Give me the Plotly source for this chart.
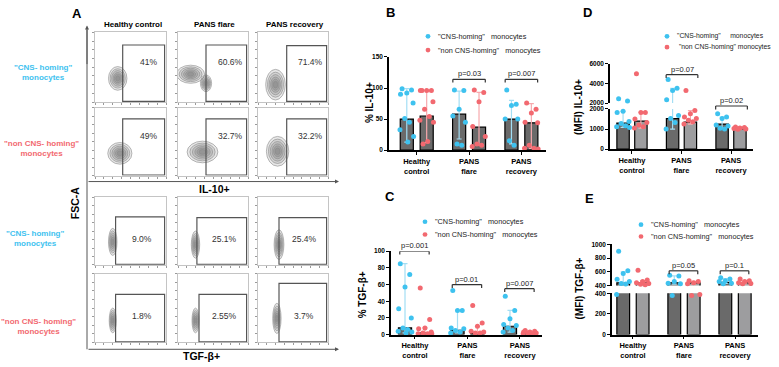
import plotly.graph_objects as go

W, H = 779, 367
FONT = "Liberation Sans, Arial, sans-serif"
CYAN, RED = "#3ec2ef", "#f26970"
CYAN_LT, RED_LT = "#a3def4", "#f7a9ad"
BAR_DK, BAR_LT = "#6a6a6a", "#9d9d9f"

groups = ["Healthy<br>control", "PANS<br>flare", "PANS<br>recovery"]
legend_labels = ['"CNS-homing"\u00a0\u00a0 monocytes', '"non CNS-homing"\u00a0\u00a0 monocytes']
legend_labels_d = ['"CNS-homing"\u00a0\u00a0\u00a0\u00a0 monocytes', ' "non CNS-homing" monocytes']

# ---------------- Panel B : % IL-10+ ----------------
b_cns = [[99, 97, 92, 90, 76, 51, 45, 33, 22, 13], [97, 96, 66, 55, 45, 10, 8], [97, 74, 72, 50, 50, 15, 8]]
b_non = [[96, 96, 96, 96, 78, 66, 54, 48, 45, 14, 10], [97, 93, 78, 38, 22, 10, 8, 6], [76, 66, 60, 45, 44, 8, 3, 3, 2]]
b_bar_cns = [50, 58, 50]
b_bar_non = [55, 37, 44]
b_hi_cns, b_lo_cns = [99, 95, 80], [13, 18, 10]
b_hi_non, b_lo_non = [96, 93, 75], [12, 8, 3]
b_p = [None, "p=0.03", "p=0.007"]
b_p_y = [None, 114, 114]

# ---------------- Panel C : % TGF-b+ ----------------
c_cns = [[85, 72, 57, 31, 20, 8, 6, 4, 3, 2], [53, 29, 29, 8, 7, 5, 3, 2], [46, 29, 19, 12, 11, 8, 5, 3]]
c_non = [[56, 18, 8, 7, 3, 2, 1, 1, 1], [35, 14, 10, 4, 3, 2, 2], [5, 4, 3, 3, 2, 2, 1, 1]]
c_bar_cns = [8, 5, 10]
c_bar_non = [2, 1.5, 2]
c_hi_cns, c_lo_cns = [85, 29, 29], [2, 2, 3]
c_hi_non, c_lo_non = [8, 10, 4], [1, 1, 1]
c_p = ["p=0.001", "p=0.01", "p=0.007"]
c_p_y = [100, 60, 55]

# ---------------- Panel D : MFI IL-10+ ----------------
d_cns = [[2430, 2200, 1880, 1830, 1380, 1280, 1170, 1120, 1080],
         [4400, 3500, 3270, 2330, 1680, 1520, 1330, 1000],
         [1760, 1600, 1520, 1200, 1150, 1040, 1000]]
d_non = [[5000, 1830, 1830, 1500, 1330, 1200, 1120, 1050],
         [3270, 1920, 1760, 1600, 1520, 1440, 1360, 1250],
         [1100, 1080, 1050, 1030, 1000, 990]]
d_bar_cns = [1300, 1520, 1250]
d_bar_non = [1400, 1350, 1000]
d_hi_cns, d_lo_cns = [1880, 3500, 1600], [1080, 1000, 1040]
d_hi_non, d_lo_non = [1830, 1920, 1080], [1050, 1250, 990]
d_p = [None, "p=0.07", "p=0.02"]
d_p_ypx = [None, 72, 104]
d_break = 2000

# ---------------- Panel E : MFI TGF-b+ ----------------
e_cns = [[900, 614, 576, 490, 457, 430, 424, 390], [550, 538, 457, 433, 425, 380], [514, 495, 471, 457, 433, 425]]
e_non = [[624, 480, 457, 440, 430, 420, 410], [471, 457, 440, 425, 390, 380], [495, 471, 457, 440, 430, 425]]
e_bar_cns = [440, 440, 445]
e_bar_non = [440, 440, 440]
e_hi_cns, e_lo_cns = [600, 540, 500], [424, 420, 430]
e_hi_non, e_lo_non = [470, 460, 470], [420, 420, 425]
e_p = [None, "p=0.05", "p=0.1"]
e_p_ypx = [None, 272, 272]
e_break = 400

# ---------------- Panel A : flow cytometry ----------------
flow_cols = ["Healthy control", "PANS flare", "PANS recovery"]
flow_rows = ['"CNS- homing"<br>monocytes', '"non CNS- homing"<br>monocytes',
             '"CNS- homing"<br>monocytes', '"non CNS- homing"<br>monocytes']
flow_pct = [["41%", "60.6%", "71.4%"], ["49%", "32.7%", "32.2%"],
            ["9.0%", "25.1%", "25.4%"], ["1.8%", "2.55%", "3.7%"]]
# gate left edge and top edge (axis units 0-100)
gate_x0 = [[39, 40, 41], [39, 40, 41], [29, 27, 30], [29, 30, 30]]
gate_y1 = [[82, 82, 81], [84, 84, 84], [71, 70, 70], [70, 70, 86]]
# population blobs: (cx, cy, rx, ry)
blobs = [[[(32, 34, 13, 17)], [(18, 40, 20, 13), (40, 27, 8, 12)], [(25, 25, 14, 22)]],
         [[(35, 33, 17, 16)], [(35, 35, 22, 16)], [(28, 36, 16, 22)]],
         [[(25, 34, 6, 20)], [(25, 30, 6, 20)], [(30, 30, 7, 22)]],
         [[(25, 32, 5, 18)], [(25, 32, 5, 18)], [(27, 35, 6, 22)]]]


def px(x):
    return x / W


def py(y):
    return 1 - y / H


fig = go.Figure()
axes = {}
shapes = []
annos = []
count = [0]


def add_axes(xd, yd, xr, yr, xo=None, yo=None):
    count[0] += 1
    n = count[0]
    s = "" if n == 1 else str(n)
    xa = dict(domain=[px(xd[0]), px(xd[1])], range=xr, anchor="y" + s,
              showgrid=False, zeroline=False, fixedrange=True)
    ya = dict(domain=[py(yd[1]), py(yd[0])], range=yr, anchor="x" + s,
              showgrid=False, zeroline=False, fixedrange=True)
    xa.update(xo or {})
    ya.update(yo or {})
    axes["xaxis" + s] = xa
    axes["yaxis" + s] = ya
    return "x" + s, "y" + s


def text(x, y, t, size=8, color="black", bold=False, xanchor="center", yanchor="middle",
         xref="paper", yref="paper", angle=0):
    if bold:
        t = "<b>" + t + "</b>"
    annos.append(dict(x=x, y=y, xref=xref, yref=yref, text=t, showarrow=False,
                      font=dict(family=FONT, size=size, color=color),
                      xanchor=xanchor, yanchor=yanchor, textangle=angle))


# ---- panel A ----
col_px = [(95, 166), (178, 248), (258, 328)]
row_px = [(29, 100), (106, 175), (197, 266), (275, 345)]
flow_ax = dict(showline=True, mirror=True, linecolor="#c4c4c4", linewidth=1,
               ticks="outside", ticklen=2, tickcolor="#9a9a9a", dtick=12.5,
               showticklabels=False)
levels = [1.0, 0.82, 0.66, 0.5, 0.36, 0.22]
for r in range(4):
    for c in range(3):
        xn, yn = add_axes(col_px[c], row_px[r], [0, 100], [0, 100], dict(flow_ax), dict(flow_ax))
        for (cx, cy, rx, ry) in blobs[r][c]:
            for k, f in enumerate(levels):
                shapes.append(dict(type="circle", xref=xn, yref=yn,
                                   x0=cx - rx * f, x1=cx + rx * f, y0=cy - ry * f, y1=cy + ry * f,
                                   line=dict(color="#8a8a8a", width=0.6),
                                   fillcolor="rgba(70,70,70,0.13)"))
        shapes.append(dict(type="rect", xref=xn, yref=yn, x0=gate_x0[r][c], x1=98,
                           y0=1, y1=gate_y1[r][c], line=dict(color="#555555", width=1.2)))
        text(75 if r < 2 else 66, 58 if r < 2 else 38, flow_pct[r][c], size=8.5, color="#333333",
             xref=xn, yref=yn)

for c, name in enumerate(flow_cols):
    text(px((col_px[c][0] + col_px[c][1]) / 2 + 2), py(21), name, size=8, bold=True)
row_lab_px = [(43, 70), (41, 147), (35, 239), (38, 329)]
for r, lab in enumerate(flow_rows):
    text(px(row_lab_px[r][0]), py(row_lab_px[r][1]), lab, size=8, bold=True,
         color=CYAN if r % 2 == 0 else RED)
# big axes with arrows
shapes.append(dict(type="line", xref="paper", yref="paper", x0=px(87), x1=px(87), y0=py(352), y1=py(26),
                   line=dict(color="#555", width=1)))
for yy in (181, 352):
    annos.append(dict(x=px(339), y=py(yy), xref="paper", yref="paper", ax=-252, ay=0, text="",
                      showarrow=True, arrowhead=2, arrowsize=0.8, arrowwidth=1, arrowcolor="#555"))
annos.append(dict(x=px(87), y=py(22), xref="paper", yref="paper", ax=0, ay=40, text="",
                  showarrow=True, arrowhead=2, arrowsize=0.8, arrowwidth=1, arrowcolor="#555"))
text(px(215), py(189), "IL-10+", size=10.5, bold=True)
text(px(202), py(359), "TGF-β+", size=10.5, bold=True)
text(px(75), py(203), "FSC-A", size=10.5, bold=True, angle=-90)

# ---- bar panels ----
JIT = [-0.09, 0.09, 0.0, -0.12, 0.12, -0.04, 0.05, -0.13, 0.13, 0.02, -0.07, 0.07]


def bar_x_axis():
    return dict(showline=True, linecolor="black", linewidth=1.5, ticks="outside", ticklen=3,
                tickwidth=1.2, tickcolor="black", tickvals=[0, 1, 2],
                ticktext=["<b>" + g + "</b>" for g in groups],
                tickfont=dict(family=FONT, size=7.5, color="black"))


def bar_y_axis(vals):
    return dict(showline=True, linecolor="black", linewidth=1.5, ticks="outside", ticklen=3,
                tickwidth=1.2, tickcolor="black", tickvals=vals,
                ticktext=["<b>%d</b>" % v for v in vals],
                tickfont=dict(family=FONT, size=6.5, color="black"))


def draw_series(xn, yn, pts, bars, hi, lo, off, fill, col, col_lt, lo_lim=None, hi_lim=None):
    gx = [g + off for g in range(3)]
    fig.add_trace(go.Bar(x=gx, y=bars, width=0.25, xaxis=xn, yaxis=yn,
                         marker=dict(color=fill, line=dict(color="black", width=1.2)),
                         error_y=dict(type="data", symmetric=False,
                                      array=[h - b for h, b in zip(hi, bars)],
                                      arrayminus=[b - l for b, l in zip(bars, lo)],
                                      color=col_lt, thickness=1.2, width=2.5),
                         showlegend=False, hoverinfo="skip"))
    xs, ys = [], []
    for g in range(3):
        for k, v in enumerate(pts[g]):
            if lo_lim is not None and v < lo_lim:
                continue
            if hi_lim is not None and v >= hi_lim:
                continue
            xs.append(g + off + JIT[k % len(JIT)])
            ys.append(v)
    fig.add_trace(go.Scatter(x=xs, y=ys, mode="markers", xaxis=xn, yaxis=yn,
                             marker=dict(color=col, size=5), showlegend=False, hoverinfo="skip",
                             cliponaxis=False))


def bracket(xref, yref, x0, x1, y, drop, label):
    for (a, b, c, d) in [(x0, y, x1, y), (x0, y, x0, y - drop), (x1, y, x1, y - drop)]:
        shapes.append(dict(type="line", xref=xref, yref=yref, x0=a, y0=b, x1=c, y1=d,
                           line=dict(color="#333", width=1.2)))
    annos.append(dict(x=(x0 + x1) / 2, y=y, xref=xref, yref=yref, text=label, showarrow=False,
                      font=dict(family=FONT, size=7.5, color="#222"), xanchor="center",
                      yanchor="bottom", yshift=-1))


def legend(x, y1, y2, labels, size=7.3):
    for yy, col, lab in [(y1, CYAN, labels[0]), (y2, RED, labels[1])]:
        shapes.append(dict(type="circle", xref="paper", yref="paper", x0=px(x - 2.4), x1=px(x + 2.4),
                           y0=py(yy + 2.4), y1=py(yy - 2.4), fillcolor=col, line=dict(width=0)))
        text(px(x + 8), py(yy), lab, size=size, color="#222", xanchor="left")


OFF = 0.19

# Panel B
xb, yb = add_axes((389, 546), (54, 149), [-0.53, 2.47], [0, 150], bar_x_axis(), bar_y_axis([0, 50, 100, 150]))
draw_series(xb, yb, b_cns, b_bar_cns, b_hi_cns, b_lo_cns, -OFF, BAR_DK, CYAN, CYAN_LT)
draw_series(xb, yb, b_non, b_bar_non, b_hi_non, b_lo_non, OFF, BAR_DK, RED, RED_LT)
for g in range(3):
    if b_p[g]:
        bracket(xb, yb, g - 0.31, g + 0.31, b_p_y[g], 5, b_p[g])
legend(428, 33, 47, legend_labels)
text(px(369), py(101), "% IL-10+", size=10, bold=True, angle=-90)
text(px(391), py(9), "B", size=13, bold=True)

# Panel C
xc, yc = add_axes((391, 542), (252, 337), [-0.457, 2.42], [0, 100], bar_x_axis(), bar_y_axis([0, 20, 40, 60, 80, 100]))
draw_series(xc, yc, c_cns, c_bar_cns, c_hi_cns, c_lo_cns, -OFF, BAR_DK, CYAN, CYAN_LT)
draw_series(xc, yc, c_non, c_bar_non, c_hi_non, c_lo_non, OFF, BAR_DK, RED, RED_LT)
for g in range(3):
    bracket(xc, yc, g - 0.29, g + 0.27, c_p_y[g], 4, c_p[g])
legend(425, 222, 235, legend_labels)
text(px(362), py(297), "% TGF-β+", size=10, bold=True, angle=-90)
text(px(390), py(196), "C", size=13, bold=True)

# Panel D (broken axis)
d_xr = [-0.444, 2.444]
xd1, yd1 = add_axes((610, 753), (107, 148), d_xr, [0, d_break], bar_x_axis(), bar_y_axis([0, 1000, 2000]))
xd2, yd2 = add_axes((610, 753), (61, 101), d_xr, [d_break, 6000], dict(visible=False), bar_y_axis([2000, 4000, 6000]))
for (xn, yn, lo_l, hi_l) in [(xd1, yd1, None, d_break), (xd2, yd2, d_break, None)]:
    draw_series(xn, yn, d_cns, d_bar_cns, d_hi_cns, d_lo_cns, -0.18, BAR_DK, CYAN, CYAN_LT, lo_l, hi_l)
    draw_series(xn, yn, d_non, d_bar_non, d_hi_non, d_lo_non, 0.18, BAR_LT, RED, RED_LT, lo_l, hi_l)
for g in range(3):
    if d_p[g]:
        bracket(xd1, "paper", g - 0.31, g + 0.33, py(d_p_ypx[g]), 3.5 / H, d_p[g])
legend(667, 33, 44, legend_labels_d, size=6.8)
text(px(579), py(105), "(MFI) IL-10+", size=10, bold=True, angle=-90)
text(px(587), py(9), "D", size=13, bold=True)

# Panel E (broken axis)
e_xr = [-0.41, 2.45]
xe1, ye1 = add_axes((612, 758), (295, 337), e_xr, [0, e_break], bar_x_axis(), bar_y_axis([0, 200, 400]))
xe2, ye2 = add_axes((612, 758), (245, 287), e_xr, [e_break, 1000], dict(visible=False), bar_y_axis([400, 600, 800, 1000]))
for (xn, yn, lo_l, hi_l) in [(xe1, ye1, None, e_break), (xe2, ye2, e_break, None)]:
    draw_series(xn, yn, e_cns, e_bar_cns, e_hi_cns, e_lo_cns, -0.19, BAR_DK, CYAN, CYAN_LT, lo_l, hi_l)
    draw_series(xn, yn, e_non, e_bar_non, e_hi_non, e_lo_non, 0.19, BAR_LT, RED, RED_LT, lo_l, hi_l)
for g in range(3):
    if e_p[g]:
        bracket(xe1, "paper", g - 0.29, g + 0.27, py(e_p_ypx[g]), 3.5 / H, e_p[g])
legend(641, 225, 237, legend_labels)
text(px(579), py(290), "(MFI) TGF-β+", size=10, bold=True, angle=-90)
text(px(589), py(198), "E", size=13, bold=True)

text(px(77), py(10), "A", size=13, bold=True)

fig.update_layout(width=W, height=H, autosize=False, margin=dict(l=0, r=0, t=0, b=0),
                  paper_bgcolor="white", plot_bgcolor="rgba(0,0,0,0)", barmode="overlay",
                  showlegend=False, shapes=shapes, annotations=annos,
                  font=dict(family=FONT, color="black"), **axes)
fig.write_html("out.html", config={"displayModeBar": False})
